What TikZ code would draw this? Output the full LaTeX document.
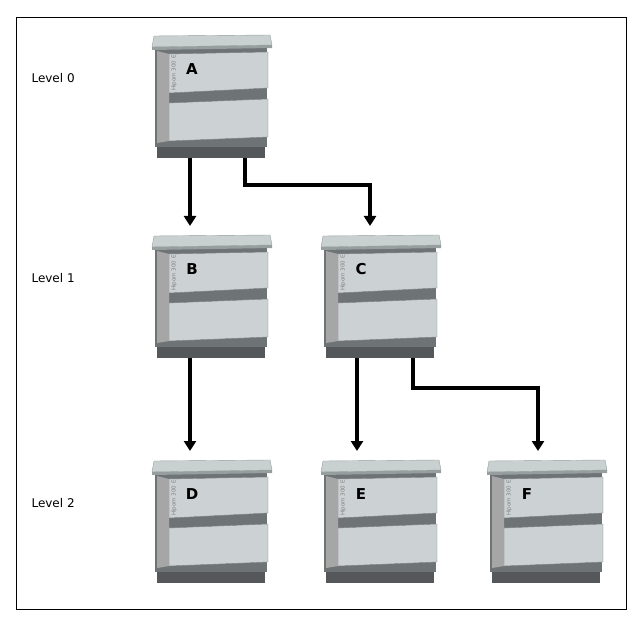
\documentclass[tikz,border=0pt]{standalone}
\usepackage{fontspec}
\setmainfont{DejaVu Sans}
\usetikzlibrary{arrows.meta}
\definecolor{lid}{RGB}{200,208,208}
\definecolor{lidedge}{RGB}{150,158,158}
\definecolor{sidec}{RGB}{110,116,118}
\definecolor{panel}{RGB}{204,210,212}
\definecolor{basec}{RGB}{85,88,90}
\tikzset{
  conn/.style={line width=3.5pt,-{Triangle[length=10pt,width=12pt]}},
  lvl/.style={font=\fontsize{12}{14}\selectfont,anchor=west},
  devlabel/.style={font=\bfseries\fontsize{15}{17}\selectfont},
  pics/device/.style={code={
    \fill[basec] (5,113) rectangle (113,125);
    \fill[sidec] (3,15) rectangle (115,114);
    \fill[lid,draw=lidedge] (2,3) -- (118,2) -- (120,12) -- (0,14) -- cycle;
    \fill[lidedge] (0,14) -- (120,12) -- (120,15) -- (0,17) -- cycle;
    \fill[panel,draw=gray] (17,21) -- (116,19) -- (116,55) -- (17,60) -- cycle;
    \fill[panel,draw=gray] (17,70) -- (116,66) -- (116,104) -- (17,108) -- cycle;
    \fill[gray!70] (5,18) -- (17,21) -- (17,108) -- (5,110) -- cycle;
    \node[rotate=90,font=\fontsize{5.5}{6}\selectfont,text=gray] at (22,40) {Hipom 300 E};
  }}
}
\begin{document}
\begin{tikzpicture}[x=1pt,y=-1pt]
\useasboundingbox (0,0) rectangle (634,617);
\draw[black,line width=0.6pt] (16,17) rectangle (626,609);
\foreach \n/\x/\y in {A/152/33,B/152/233,C/321/233,D/152/458,E/321/458,F/487/458}{
  \pic at (\x,\y) {device};
  \node[devlabel] (\n) at (\x+40,\y+36) {\n};
}
\node[lvl] (l0) at (28,78) {Level 0};
\node[lvl] (l1) at (28,278) {Level 1};
\node[lvl] (l2) at (28,503) {Level 2};
\coordinate (a1) at (190,158); \coordinate (a2) at (245,158);
\coordinate (b1) at (190,358);
\coordinate (c1) at (357,358); \coordinate (c2) at (413,358);
\coordinate (tB) at (190,226); \coordinate (tC) at (370,226);
\coordinate (tD) at (190,451); \coordinate (tE) at (357,451); \coordinate (tF) at (538,451);
\draw[conn] (a1) -- (tB);
\draw[conn] (a2) |- (300,185) -| (tC);
\draw[conn] (b1) -- (tD);
\draw[conn] (c1) -- (tE);
\draw[conn] (c2) |- (470,388) -| (tF);
\end{tikzpicture}
\end{document}
